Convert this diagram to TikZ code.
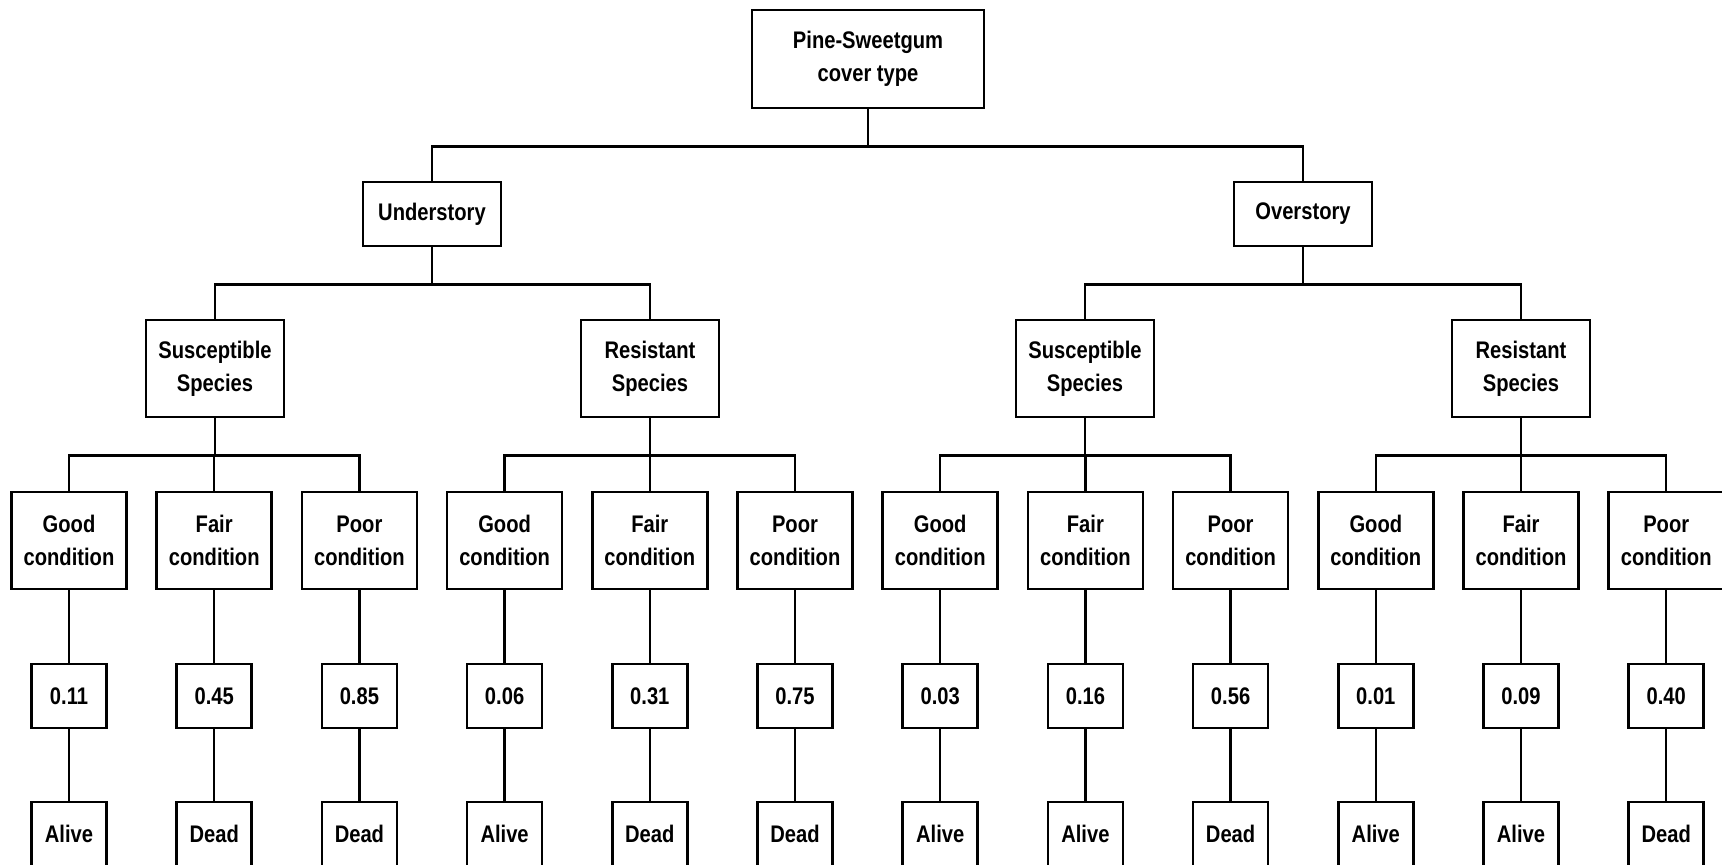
\documentclass[tikz,border=0pt]{standalone}
\usepackage{fontspec}
\setmainfont[FakeStretch=0.84]{Liberation Sans}
\begin{document}
\begin{tikzpicture}[x=1pt,y=-1pt,line width=2.5pt]
  \tikzstyle{tree box}=[draw,align=center,inner sep=0pt,font=\bfseries\fontsize{24}{33}\selectfont]
  \tikzstyle{cond box}=[tree box,minimum width=115,minimum height=97]
  \tikzstyle{value box}=[tree box,minimum width=75,minimum height=64]
  \tikzstyle{fate box}=[tree box,minimum width=75,minimum height=66]
  \useasboundingbox (0,0) rectangle (1722,865);

  % Wurzel
  \node[tree box,minimum width=232,minimum height=98] (cover) at (868,59) {Pine-Sweetgum\\cover type};

  % Stockwerke
  \node[tree box,minimum width=138,minimum height=64] (under) at (432,214) {Understory};
  \node[tree box,minimum width=138,minimum height=64] (over) at (1303,214) {Overstory};
  \draw (cover.south) -- ++(0,37) -| (under.north);
  \draw (cover.south) -- ++(0,37) -| (over.north);

  % Arten
  \node[tree box,minimum width=138,minimum height=97] (us) at (215,368.5) {Susceptible\\Species};
  \node[tree box,minimum width=138,minimum height=97] (ur) at (650,368.5) {Resistant\\Species};
  \node[tree box,minimum width=138,minimum height=97] (os) at (1085,368.5) {Susceptible\\Species};
  \node[tree box,minimum width=138,minimum height=97] (or) at (1521,368.5) {Resistant\\Species};
  \foreach \p/\q in {under/us,under/ur,over/os,over/or}
    \draw (\p.south) -- ++(0,37) -| (\q.north);

  % Zustand, Wert und Ausgang
  \foreach \cond/\val/\fate [count=\i] in {Good/0.11/Alive,Fair/0.45/Dead,Poor/0.85/Dead,
      Good/0.06/Alive,Fair/0.31/Dead,Poor/0.75/Dead,Good/0.03/Alive,Fair/0.16/Alive,Poor/0.56/Dead,
      Good/0.01/Alive,Fair/0.09/Alive,Poor/0.40/Dead}
  {
    \node[cond box] (c\i) at ({69+145.2*(\i-1)},540.5) {\cond\\condition};
    \node[value box] (v\i) at ({69+145.2*(\i-1)},696) {\val};
    \node[fate box] (f\i) at ({69+145.2*(\i-1)},835) {\raisebox{3pt}{\fate}};
    \draw (c\i) -- (v\i) -- (f\i);
  }
  \foreach \p/\a/\b/\c in {us/1/2/3,ur/4/5/6,os/7/8/9,or/10/11/12}
  {
    \draw (\p.south) -- ++(0,37) -| (c\a.north);
    \draw (\p.south) -- ++(0,37) -| (c\b.north);
    \draw (\p.south) -- ++(0,37) -| (c\c.north);
  }

\end{tikzpicture}
\end{document}
